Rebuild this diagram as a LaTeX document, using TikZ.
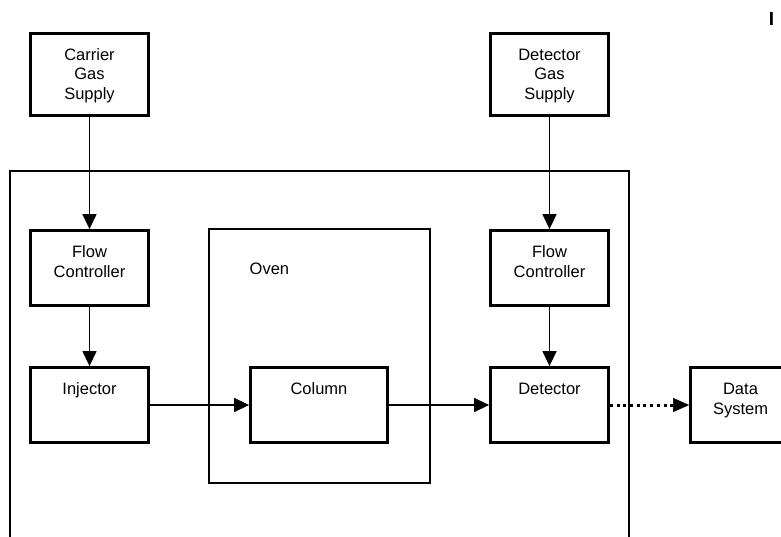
\documentclass[tikz,border=0pt]{standalone}
\usepackage{fontspec}
\setmainfont{Liberation Sans}
\usetikzlibrary{arrows.meta}

% box label: fixed-size parbox, text hung from the top edge
\newcommand{\toptext}[3]{\parbox[c][#2][t]{#1}{\centering\fontsize{16.5}{19.5}\selectfont\rule{0pt}{27pt}#3}}

\tikzset{
  blk/.style={draw, line width=2.8pt, inner sep=0pt},
  frame/.style={draw, line width=2.5pt},
  conn/.style={line width=1.4pt, -{Triangle[length=15pt,width=14pt]}},
  dots/.style={line width=3pt, dash pattern=on 3pt off 3.7pt,
    -{Triangle[length=16pt,width=14pt,line width=0.4pt]}},
}

\begin{document}
\begin{tikzpicture}[x=1pt, y=-1pt]
  \clip (0,0) rectangle (781,537);
  \fill[white] (0,0) rectangle (781,537);

  % instrument housing, open at the bottom
  \draw[frame] (10,560) -- (10,171) -- (629,171) -- (629,560);

  % gas supplies
  \node[blk] (carrier) at (89.5,74.5) {\toptext{118pt}{82pt}{Carrier\\Gas\\Supply}};
  \node[blk] (detgas)  at (549.5,74.5) {\toptext{118pt}{82pt}{Detector\\Gas\\Supply}};

  % flow controllers
  \node[blk] (flowL) at (89.5,268) {\toptext{118pt}{75pt}{Flow\\Controller}};
  \node[blk] (flowR) at (549.5,268) {\toptext{118pt}{75pt}{Flow\\Controller}};

  % oven with column inside
  \node[blk, minimum width=221pt, minimum height=254pt] (oven) at (319.5,356) {};
  \node[anchor=base west, inner sep=0pt] (ovenlbl) at (249.5,274)
       {\fontsize{16.5}{19.5}\selectfont Oven};
  \node[blk] (column) at (319,405) {\toptext{137pt}{75pt}{Column}};

  % injector, detector, data system
  \node[blk] (inj)  at (89.5,405) {\toptext{118pt}{75pt}{Injector}};
  \node[blk] (det)  at (549.5,405) {\toptext{118pt}{75pt}{Detector}};
  \node[blk] (data) at (740.5,405) {\toptext{100pt}{75pt}{Data\\System}};

  \node[inner sep=0pt] (mark) at (771.5,18.5) {\fontsize{19}{19}\selectfont\bfseries I};

  % gas and sample flow
  \draw[conn] (carrier.south) -- (flowL.north);
  \draw[conn] (flowL.south) -- (inj.north);
  \draw[conn] (detgas.south) -- (flowR.north);
  \draw[conn] (flowR.south) -- (det.north);
  \draw[conn] (inj.east) -- (column.west);
  \draw[conn] (column.east) -- (det.west);

  % signal link
  \draw[dots] (det.east) -- (data.west);
\end{tikzpicture}
\end{document}
